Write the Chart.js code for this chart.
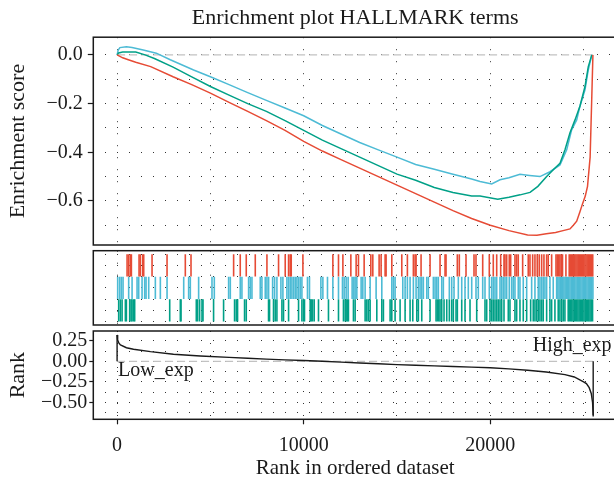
<!DOCTYPE html>
<html>
<head>
<meta charset="utf-8">
<title>Enrichment plot HALLMARK terms</title>
<script src="https://cdn.jsdelivr.net/npm/chart.js@4.4.1/dist/chart.umd.min.js"></script>
<style>
  html, body { margin: 0; padding: 0; background: #fff; overflow: hidden; }
  #wrap { position: relative; width: 614px; height: 485px; overflow: hidden; }
  #wrap canvas { position: absolute; left: 0; }
</style>
</head>
<body>
<div id="wrap">
  <canvas id="esChart" width="620" height="248" style="top:0"></canvas>
  <canvas id="hitChart" width="620" height="80" style="top:248px"></canvas>
  <canvas id="rankChart" width="620" height="157" style="top:328px"></canvas>
</div>
<script>
// ---- values ----
const geneCount = 25514;

const xTickLabels = [0, 10000, 20000];
const xGrid = [0, 5000, 10000, 15000, 20000, 25000];
const esTickLabels = [0, -0.2, -0.4, -0.6];
const esGrid = [0, -0.1, -0.2, -0.3, -0.4, -0.5, -0.6, -0.7];
const rankTickLabels = [0.25, 0, -0.25, -0.5];
const rankGrid = [0.25, 0.125, 0, -0.125, -0.25, -0.375, -0.5, -0.625];
const hitGrid = [0, 0.5, 1, 1.5, 2, 2.5, 3];

// running enrichment score, [rank, ES]
const esRed = [
  [0, 0], [300, -0.012], [600, -0.02], [1000, -0.03], [1800, -0.048], [3000, -0.09], [4000, -0.122],
  [5000, -0.157], [6000, -0.195], [7000, -0.232], [8000, -0.27], [9000, -0.31], [10000, -0.355],
  [11000, -0.395], [12000, -0.43], [13000, -0.465], [14000, -0.5], [15000, -0.535], [16000, -0.57],
  [17000, -0.605], [18000, -0.64], [19000, -0.672], [20000, -0.7], [21000, -0.722], [22000, -0.74],
  [22500, -0.741], [23000, -0.735], [23500, -0.73], [23900, -0.722], [24270, -0.715], [24450, -0.7],
  [24630, -0.683], [24800, -0.645], [24950, -0.61], [25090, -0.58], [25210, -0.54], [25350, -0.42],
  [25440, -0.17], [25500, 0]
];
const esBlue = [
  [0, 0], [60, 0.02], [150, 0.03], [500, 0.033], [800, 0.03], [1400, 0.02], [2100, 0.007],
  [2850, -0.02], [4100, -0.062], [5000, -0.09], [6000, -0.122], [7000, -0.155], [8000, -0.187],
  [9000, -0.218], [10000, -0.25], [11000, -0.29], [12000, -0.325], [13000, -0.36], [14000, -0.39],
  [15000, -0.42], [16000, -0.45], [17000, -0.47], [18000, -0.49], [19000, -0.51], [19450, -0.52],
  [20075, -0.53], [20520, -0.513], [21000, -0.505], [21590, -0.49], [22100, -0.495], [22660, -0.5],
  [23200, -0.48], [23735, -0.452], [24095, -0.39], [24360, -0.308], [24630, -0.267], [24800, -0.212],
  [25075, -0.144], [25250, -0.062], [25440, 0]
];
const esGreen = [
  [0, 0], [80, 0.008], [300, 0.012], [1000, 0.012], [1500, 0], [2000, -0.015], [3000, -0.05],
  [4000, -0.09], [5000, -0.13], [6000, -0.165], [7000, -0.2], [8000, -0.232], [9000, -0.27],
  [10000, -0.31], [11000, -0.35], [12000, -0.385], [13000, -0.42], [14000, -0.455], [15000, -0.49],
  [16000, -0.515], [17000, -0.545], [18000, -0.565], [19000, -0.58], [19450, -0.58], [20400, -0.593],
  [21000, -0.585], [21600, -0.575], [22130, -0.565], [22550, -0.54], [23020, -0.5], [23400, -0.47],
  [23735, -0.445], [24003, -0.39], [24271, -0.32], [24540, -0.267], [24807, -0.21], [25075, -0.13],
  [25252, -0.048], [25440, 0]
];

// gene positions (rank) of each set's hits
const hitsRed = [
  535, 621, 712, 766, 1177, 1247, 1373, 1427, 1873, 2677, 3656, 3961, 6245, 6600, 6922, 7405, 8030,
  8653, 9010, 9190, 9278, 9332, 9957, 11563, 11865, 12100, 12527, 12810, 12935, 13240, 13597, 13704,
  14042, 14149, 14363, 14416, 14722, 15257, 15557, 15878, 15969, 16023, 16290, 16772, 17307, 17575,
  17628, 18234, 18340, 18699, 19127, 19234, 19593, 19946, 20160, 20343, 20557, 20734, 20787, 20878,
  21017, 21092, 21322, 21413, 21499, 21734, 22034, 22126, 22270, 22393, 22516, 22623, 22752, 22875,
  23019, 23105, 23287, 23520, 23590, 23660, 23730, 23800, 23870, 24053, 24229, 24290, 24350, 24410,
  24470, 24530, 24590, 24650, 24710, 24770, 24830, 24890, 24950, 25010, 25070, 25130, 25190, 25250,
  25310, 25370, 25430, 25490
];
const hitsBlue = [
  32, 140, 230, 320, 621, 803, 1070, 1159, 1338, 1480, 1552, 1695, 2050, 2318, 2677, 3570, 3835, 3924,
  4370, 5085, 5210, 5977, 6067, 6600, 6690, 7048, 7137, 7227, 7672, 7762, 7940, 8030, 8120, 8334, 8441,
  8565, 8779, 8886, 9100, 9190, 9278, 9368, 9457, 9545, 9636, 9725, 9813, 9904, 10203, 10310, 10921,
  11028, 11275, 11563, 11865, 12078, 12168, 12275, 12382, 12596, 12687, 12757, 12848, 13078, 13169,
  13292, 13560, 13881, 14186, 14722, 14807, 14898, 15310, 15434, 15557, 15701, 15878, 16023, 16146,
  16237, 16327, 16413, 16595, 16681, 16949, 17040, 17131, 17216, 17398, 17484, 17805, 17933, 18056,
  18287, 18469, 18645, 18822, 19004, 19234, 19358, 19593, 19716, 19946, 20075, 20160, 20252, 20343,
  20520, 20610, 20696, 20787, 20878, 21017, 21145, 21231, 21322, 21499, 21590, 21767, 21949, 22216,
  22393, 22570, 22661, 22752, 22837, 22928, 23019, 23196, 23373, 23555, 23620, 23685, 23750, 23815,
  23880, 23945, 24010, 24075, 24140, 24205, 24270, 24335, 24400, 24465, 24530, 24595, 24660, 24725,
  24790, 24855, 24920, 24985, 25050, 25115, 25180, 25245, 25310, 25375, 25440, 25500
];
const hitsGreen = [
  86, 177, 268, 444, 498, 675, 750, 803, 889, 942, 2820, 3389, 3426, 4245, 4315, 4422, 4550, 4604, 5171,
  5707, 6296, 6387, 6456, 6831, 6922, 8116, 8170, 8383, 8474, 8565, 8833, 8919, 9190, 9725, 9904, 9990,
  10043, 10348, 10402, 10471, 10562, 10793, 11328, 11865, 12131, 12222, 12275, 12345, 12398, 12666,
  12757, 13292, 13383, 13469, 13560, 13918, 14186, 14272, 14631, 14722, 14898, 15166, 15434, 15701,
  15846, 16060, 16146, 16327, 16772, 17093, 17163, 17238, 17307, 17398, 17521, 17666, 17805, 17933,
  18019, 18164, 18234, 18469, 18645, 18913, 19272, 19716, 19807, 19984, 20075, 20160, 20252, 20343,
  20428, 20520, 20610, 20734, 20964, 21054, 21322, 21413, 21590, 21767, 21949, 22163, 22302, 22393,
  22484, 22570, 22661, 22752, 22837, 23019, 23196, 23287, 23464, 23640, 23731, 23822, 23908, 23999,
  24175, 24240, 24305, 24370, 24435, 24500, 24565, 24630, 24695, 24760, 24825, 24890, 24955, 25020,
  25085, 25150, 25215, 25280, 25345, 25410, 25480
];

// ranked list metric
const rankPos = [
  0, 30, 100, 180, 500, 880, 1790, 3020, 4460, 6000, 7000, 8000, 9000, 10000, 11000, 12000, 13000,
  14000, 15000, 16000, 17000, 18000, 19000, 20000, 21000, 22000, 23000, 24000, 24500, 25000, 25150,
  25300, 25410, 25480, 25514
];
const rankMetric = [
  0.32, 0.26, 0.22, 0.198, 0.165, 0.146, 0.117, 0.085, 0.064, 0.048, 0.037, 0.027, 0.018, 0.01, 0,
  -0.01, -0.02, -0.03, -0.04, -0.048, -0.055, -0.063, -0.07, -0.078, -0.092, -0.108, -0.13, -0.162,
  -0.19, -0.25, -0.27, -0.32, -0.39, -0.5, -0.655
];

// ---- styling ----
const FONT = '"Liberation Serif", "Times New Roman", serif';
const INK = '#1a1a1a';
const GRID = 'rgba(0,0,0,0.8)';
const RED = '#E64B35', BLUE = '#4DBBD5', GREEN = '#00A087';

function near(a, b) { return Math.abs(a - b) < 1e-6; }
function fmt(v, d) {
  return (v < -1e-9 ? '\u2212' : '') + Math.abs(v).toFixed(d);
}

// panel box around each chart area
const frame = {
  id: 'frame',
  afterDraw(chart) {
    const { ctx, chartArea: a } = chart;
    ctx.save();
    ctx.strokeStyle = INK;
    ctx.lineWidth = 1.5;
    ctx.strokeRect(a.left, a.top, a.right - a.left, a.bottom - a.top);
    ctx.restore();
  }
};

function xScale(showLabels) {
  return {
    type: 'linear',
    min: -1275,
    max: 26790,
    afterBuildTicks: (s) => { s.ticks = xGrid.map(v => ({ value: v })); },
    afterFit: (s) => {
      s.paddingLeft = 0; s.paddingRight = 0;
      s.height = showLabels ? 65.7 : 0;
    },
    grid: {
      color: GRID,
      lineWidth: 1,
      drawTicks: showLabels,
      tickLength: 5,
      tickWidth: 1.2,
      tickColor: (c) => xTickLabels.includes(c.tick && c.tick.value) ? INK : 'rgba(0,0,0,0)'
    },
    border: { display: false, dash: [1, 11] },
    ticks: {
      display: showLabels,
      padding: 9,
      color: INK,
      autoSkip: false,
      maxRotation: 0,
      font: { family: FONT, size: 20 },
      callback: (v) => xTickLabels.includes(v) ? String(v) : ''
    },
    title: {
      display: showLabels,
      text: 'Rank in ordered dataset',
      color: INK,
      font: { family: FONT, size: 21 },
      padding: { top: 0, bottom: 4 }
    }
  };
}

function yScale(o) {
  const labelled = (v) => !!o.labels && o.labels.some(l => near(l, v));
  return {
    type: 'linear',
    min: o.min,
    max: o.max,
    afterBuildTicks: (s) => { s.ticks = o.grid.map(v => ({ value: v })); },
    afterFit: (s) => { s.width = 93.3; s.paddingTop = 0; s.paddingBottom = 0; },
    grid: {
      color: GRID,
      lineWidth: 1,
      drawTicks: !!o.labels,
      tickLength: o.tickLength || 5,
      tickWidth: 1.2,
      tickColor: (c) => c.tick && labelled(c.tick.value) ? INK : 'rgba(0,0,0,0)'
    },
    border: { display: false, dash: [1, 11] },
    ticks: {
      display: !!o.labels,
      padding: o.tickPad || 4,
      color: INK,
      autoSkip: false,
      font: { family: FONT, size: 20 },
      callback: (v) => labelled(v) ? fmt(v, o.digits) : ''
    },
    title: {
      display: !!o.title,
      text: o.title || '',
      color: INK,
      font: { family: FONT, size: 22 },
      padding: { top: 4.8, bottom: 0 }
    }
  };
}

function curve(points, color) {
  return {
    data: points.map(p => ({ x: p[0], y: p[1] })),
    borderColor: color,
    borderWidth: 1.5,
    pointRadius: 0,
    tension: 0
  };
}

function zeroLine() {
  return {
    data: [{ x: 0, y: 0 }, { x: geneCount, y: 0 }],
    borderColor: '#c2c2c2',
    borderWidth: 1.2,
    borderDash: [8, 4],
    pointRadius: 0
  };
}

function hitRow(ranks, row, color) {
  return {
    data: ranks.map(r => ({ x: r, y: row })),
    showLine: false,
    pointStyle: 'line',
    pointRotation: 90,
    pointRadius: 11.2,
    pointHoverRadius: 11.2,
    pointBorderWidth: 1.6,
    pointBorderColor: color,
    pointBackgroundColor: color
  };
}

const common = {
  responsive: false,
  animation: false,
  events: [],
  plugins: { legend: { display: false }, tooltip: { enabled: false } }
};

// top panel: running enrichment score
new Chart(document.getElementById('esChart'), {
  type: 'line',
  data: {
    datasets: [curve(esRed, RED), curve(esGreen, GREEN), curve(esBlue, BLUE), zeroLine()]
  },
  options: {
    ...common,
    layout: { autoPadding: false, padding: { left: 0, right: 3, top: 0, bottom: 3 } },
    plugins: {
      ...common.plugins,
      title: {
        display: true,
        text: 'Enrichment plot HALLMARK terms',
        color: INK,
        fullSize: false,
        font: { family: FONT, size: 22, weight: 'normal' },
        padding: { top: 5, bottom: 5.8 }
      }
    },
    scales: {
      x: xScale(false),
      y: yScale({ min: -0.781, max: 0.0727, grid: esGrid, labels: esTickLabels, digits: 1,
                  tickLength: 5.5, tickPad: 5, title: 'Enrichment score' })
    }
  },
  plugins: [frame]
});

// middle panel: hit positions of each gene set
new Chart(document.getElementById('hitChart'), {
  type: 'scatter',
  data: {
    datasets: [hitRow(hitsRed, 2.5, RED), hitRow(hitsBlue, 1.5, BLUE), hitRow(hitsGreen, 0.5, GREEN)]
  },
  options: {
    ...common,
    layout: { autoPadding: false, padding: { left: 0, right: 3, top: 2.7, bottom: 3 } },
    scales: {
      x: xScale(false),
      y: yScale({ min: -0.15, max: 3.15, grid: hitGrid })
    }
  },
  plugins: [frame]
});

// labels inside the ranked list panel
const rankNotes = {
  id: 'rankNotes',
  afterDatasetsDraw(chart) {
    const { ctx, scales: { x, y } } = chart;
    ctx.save();
    ctx.font = '20px ' + FONT;
    ctx.fillStyle = INK;
    ctx.textBaseline = 'middle';
    ctx.textAlign = 'left';
    ctx.fillText('Low_exp', x.getPixelForValue(0) + 1, y.getPixelForValue(-0.118));
    ctx.textAlign = 'right';
    ctx.fillText('High_exp', x.getPixelForValue(26500), y.getPixelForValue(0.186));
    ctx.restore();
  }
};

// bottom panel: ranked list metric
new Chart(document.getElementById('rankChart'), {
  type: 'line',
  data: {
    datasets: [
      {
        data: rankPos.map((r, i) => ({ x: r, y: rankMetric[i] })),
        borderColor: INK, borderWidth: 1.4, pointRadius: 0, tension: 0
      },
      {
        data: [{ x: 0, y: 0 }, { x: 0, y: rankMetric[0] }],
        borderColor: INK, borderWidth: 1.4, pointRadius: 0
      },
      {
        data: [{ x: geneCount, y: 0 }, { x: geneCount, y: -0.67 }],
        borderColor: INK, borderWidth: 1.4, pointRadius: 0
      },
      zeroLine()
    ]
  },
  options: {
    ...common,
    layout: { autoPadding: false, padding: { left: 0, right: 3, top: 3, bottom: 0 } },
    scales: {
      x: xScale(true),
      y: yScale({ min: -0.704, max: 0.368, grid: rankGrid, labels: rankTickLabels, digits: 2,
                  tickLength: 4, tickPad: 2, title: 'Rank' })
    }
  },
  plugins: [frame, rankNotes]
});
</script>
</body>
</html>
